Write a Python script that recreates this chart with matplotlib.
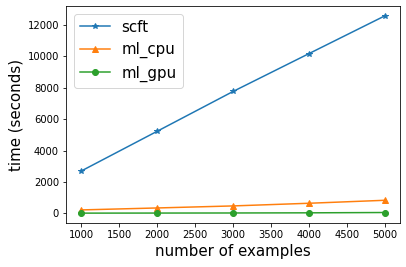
import matplotlib
matplotlib.use("Agg")
import matplotlib.pyplot as plt

n_examples = [1000, 2000, 3000, 4000, 5000]
scft = [2690, 5225, 7765, 10180, 12590]
ml_cpu = [210, 335, 465, 635, 825]
ml_gpu = [5, 10, 15, 25, 45]

fig = plt.figure(figsize=(406 / 72, 267 / 72), dpi=72)
ax = fig.add_axes([66 / 406, 1 - 223 / 267, 334 / 406, 217 / 267])

ax.plot(n_examples, scft, '*-', label='scft')
ax.plot(n_examples, ml_cpu, '^-', label='ml_cpu')
ax.plot(n_examples, ml_gpu, 'o-', label='ml_gpu')

ax.set_xlabel('number of examples', fontsize=15)
ax.set_ylabel('time (seconds)', fontsize=15)
ax.legend(fontsize=15)

fig.savefig('out.png', dpi=72)
